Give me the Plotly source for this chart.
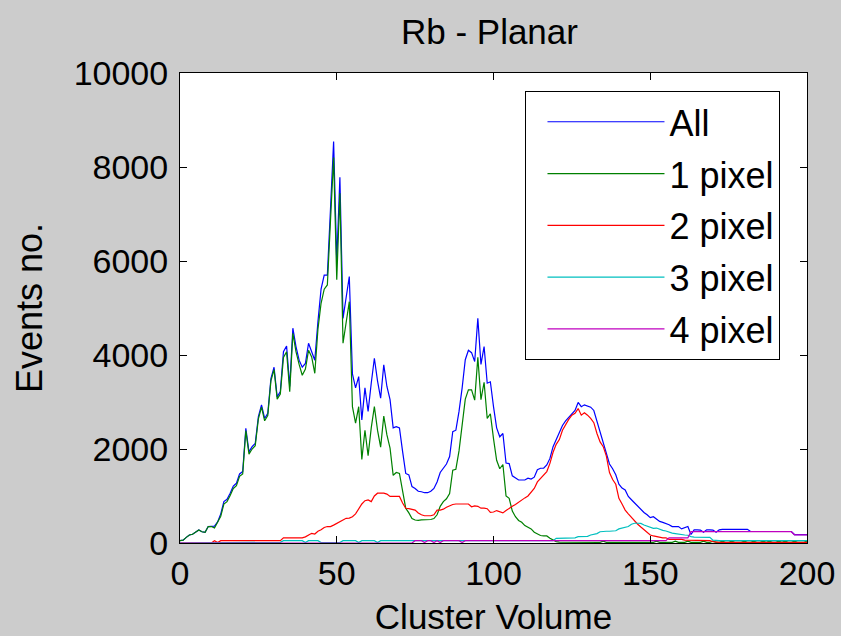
import plotly.graph_objects as go

cluster_volume = list(range(0, 201))

all_events = [
    50, 60, 120, 170, 185, 227, 277, 240, 227, 350,
    350, 360, 450, 620, 880, 930, 1060, 1210, 1270, 1470,
    1520, 2440, 1940, 2050, 2120, 2690, 2940, 2650, 2760, 3500,
    3740, 3110, 3220, 4070, 4190, 3330, 4570, 4180, 3890, 3740,
    3820, 4250, 4070, 3890, 4710, 5400, 5700, 5700, 7100, 8540,
    6000, 7780, 4780, 5200, 5670, 3600, 3300, 3540, 2620, 3300,
    2800, 3400, 3930, 3450, 3080, 3790, 3330, 3050, 2450, 2475,
    2450, 1950, 1480, 1450, 1200, 1160, 1100, 1090, 1070, 1070,
    1100, 1160, 1300, 1500, 1600, 1680, 1840, 2370, 2400, 2800,
    3300, 3900, 4100, 4050, 3860, 4780, 3800, 4180, 3400, 3430,
    2900, 2450, 2260, 2330, 1700, 1690, 1430, 1380, 1340, 1340,
    1340, 1380, 1360, 1400, 1560, 1590, 1590, 1660, 1800, 2050,
    2200, 2380, 2500, 2600, 2680, 2740, 2820, 2990, 2900, 2940,
    2920, 2890, 2820, 2600, 2350, 2150, 1900, 1680, 1580, 1450,
    1250, 1170, 1130, 990, 920, 850, 780, 710, 650, 600,
    540, 560, 500, 460, 440, 420, 390, 350, 350, 350,
    300, 320, 350, 180, 280, 280, 275, 230, 280, 280,
    275, 230, 280, 290, 290, 290, 290, 290, 290, 290,
    290, 290, 245, 245, 250, 245, 240, 245, 245, 240,
    245, 245, 240, 245, 245, 245, 180, 180, 180, 180,
    180,
]

one_pixel = [
    50, 60, 120, 170, 185, 227, 277, 240, 227, 350,
    350, 320, 440, 570, 830, 880, 1010, 1160, 1220, 1420,
    1470, 2390, 1890, 2000, 2070, 2640, 2890, 2600, 2710, 3450,
    3690, 3060, 3170, 3950, 4070, 3220, 4460, 4070, 3800, 3570,
    3700, 4100, 3960, 3610, 4550, 5100, 5400, 5490, 6850, 8200,
    5600, 7440, 4250, 4700, 5135, 2900, 2550, 2900, 1780, 2400,
    1860, 2450, 2900, 2400, 2040, 2700, 2300, 2020, 1440, 1500,
    1480, 1110, 740, 640, 520, 490, 480, 490, 490, 490,
    500, 520, 600, 780, 880, 940, 1050, 1550, 1570, 1960,
    2460, 3060, 3260, 3260, 3040, 3950, 3050, 3420, 2650, 2750,
    2220, 1760, 1580, 1670, 1000, 950, 680, 560, 480, 440,
    370, 340, 300, 230, 190, 160, 150, 150, 100, 64,
    30, 20, 20, 15, 15, 15, 15, 15, 15, 15,
    15, 15, 15, 15, 15, 40, 15, 15, 15, 15,
    15, 15, 15, 15, 15, 15, 15, 15, 15, 15,
    15, 15, 40, 15, 15, 15, 15, 15, 40, 15,
    15, 15, 40, 15, 15, 15, 15, 40, 15, 15,
    40, 15, 15, 40, 15, 15, 40, 15, 15, 15,
    40, 15, 15, 40, 15, 15, 40, 15, 40, 15,
    15, 40, 15, 40, 15, 15, 40, 15, 15, 15,
    40,
]

two_pixel = [
    0, 0, 0, 0, 0, 0, 0, 0, 0, 0,
    0, 50, 10, 50, 50, 50, 50, 50, 50, 50,
    50, 50, 50, 50, 50, 50, 50, 50, 50, 50,
    50, 50, 50, 110, 110, 110, 110, 110, 110, 110,
    130, 160, 206, 190, 250, 280, 330, 350, 350, 380,
    420, 460, 500, 525, 530, 560, 620, 720, 830, 900,
    915, 880, 1000, 1060, 1060, 1060, 1040, 990, 990, 990,
    990, 850, 740, 730, 720, 700, 640, 600, 580, 580,
    580, 600, 700, 700, 720, 760, 790, 820, 830, 830,
    830, 830, 830, 770, 790, 780, 740, 740, 730, 650,
    660, 690, 660, 640, 690, 740, 780, 820, 870, 920,
    960, 1000, 1080, 1160, 1300, 1380, 1440, 1520, 1695, 1930,
    2100, 2200, 2400, 2520, 2630, 2720, 2760, 2860, 2720, 2770,
    2720, 2650, 2560, 2330, 2150, 2050, 1850, 1500, 1350, 1250,
    950, 830, 700, 620, 540, 460, 400, 340, 277, 220,
    170, 150, 135, 110, 110, 110, 78, 78, 78, 78,
    78, 60, 60, 60, 60, 60, 60, 60, 60, 50,
    30, 15, 15, 15, 15, 15, 15, 15, 15, 15,
    15, 15, 15, 15, 15, 15, 15, 15, 15, 15,
    15, 15, 15, 15, 15, 15, 15, 15, 15, 15,
    15,
]

three_pixel = [
    0, 0, 0, 0, 0, 0, 0, 0, 0, 0,
    0, 0, 0, 0, 0, 0, 0, 0, 0, 0,
    0, 0, 0, 0, 0, 0, 0, 0, 0, 0,
    0, 0, 15, 50, 50, 50, 50, 50, 50, 50,
    10, 50, 50, 50, 50, 10, 10, 10, 10, 10,
    10, 10, 50, 50, 50, 50, 50, 10, 50, 50,
    50, 50, 50, 10, 50, 50, 50, 50, 50, 50,
    50, 50, 50, 50, 50, 50, 50, 50, 50, 50,
    50, 50, 50, 50, 50, 50, 50, 50, 50, 50,
    50, 50, 50, 50, 50, 50, 50, 50, 50, 50,
    50, 50, 50, 50, 50, 50, 50, 50, 50, 50,
    50, 50, 50, 50, 50, 50, 50, 50, 50, 50,
    100, 100, 100, 100, 100, 100, 110, 135, 135, 135,
    140, 170, 180, 200, 240, 250, 250, 250, 255, 260,
    300, 312, 330, 350, 400, 420, 420, 418, 383, 360,
    330, 312, 318, 290, 270, 255, 230, 210, 200, 185,
    180, 170, 165, 135, 125, 125, 125, 125, 125, 120,
    60, 50, 50, 50, 50, 50, 50, 50, 50, 50,
    50, 50, 50, 50, 50, 50, 50, 50, 50, 50,
    50, 50, 50, 50, 50, 50, 50, 50, 50, 50,
    50,
]

four_pixel = [
    0, 0, 0, 0, 0, 0, 0, 0, 0, 0,
    0, 0, 0, 0, 0, 0, 0, 0, 0, 0,
    0, 0, 0, 0, 0, 0, 0, 0, 0, 0,
    0, 0, 0, 0, 0, 0, 0, 0, 0, 0,
    0, 0, 0, 0, 0, 0, 0, 0, 0, 0,
    0, 0, 0, 0, 0, 0, 0, 0, 0, 0,
    0, 0, 0, 0, 0, 0, 0, 0, 0, 0,
    0, 0, 0, 0, 0, 50, 50, 50, 10, 50,
    50, 10, 50, 10, 50, 50, 50, 50, 50, 50,
    10, 50, 50, 50, 50, 50, 50, 50, 50, 50,
    50, 50, 50, 50, 50, 50, 50, 50, 50, 50,
    50, 50, 50, 50, 50, 50, 50, 50, 50, 50,
    50, 50, 50, 50, 50, 50, 50, 50, 50, 50,
    50, 50, 50, 50, 50, 50, 50, 50, 50, 50,
    50, 50, 50, 50, 50, 50, 50, 50, 50, 50,
    50, 50, 50, 50, 50, 50, 110, 110, 110, 110,
    110, 110, 110, 240, 240, 240, 240, 240, 240, 240,
    240, 240, 240, 240, 240, 240, 240, 240, 240, 240,
    240, 240, 240, 240, 240, 240, 240, 240, 240, 240,
    240, 240, 240, 240, 240, 240, 175, 175, 175, 175,
    175,
]

series_names = ["All", "1 pixel", "2 pixel", "3 pixel", "4 pixel"]
series_values = [all_events, one_pixel, two_pixel, three_pixel, four_pixel]
series_colors = ["#0000ff", "#008000", "#ff0000", "#00bfbf", "#bf00bf"]

x_ticks = [0, 50, 100, 150, 200]
y_ticks = [0, 2000, 4000, 6000, 8000, 10000]

FONT = "Liberation Sans, Arial, Helvetica, sans-serif"

fig = go.Figure()
for name, vals, col in zip(series_names, series_values, series_colors):
    fig.add_trace(go.Scatter(
        x=cluster_volume, y=vals, mode="lines", name=name,
        legendgroup=name,
        line=dict(color=col, width=1.2),
    ))

fig.update_layout(
    width=841, height=636,
    paper_bgcolor="#cccccc", plot_bgcolor="#ffffff",
    margin=dict(l=180, r=34, t=73, b=93, autoexpand=False),
    font=dict(family=FONT, size=34, color="#000000"),
    title=dict(text="Rb - Planar", x=0.582, xanchor="center",
               y=0.95, yanchor="middle", yref="container", automargin=False,
               font=dict(family=FONT, size=35, color="#000000")),
    showlegend=True,
    legend=dict(
        x=0.551, y=0.962, xanchor="left", yanchor="top",
        bgcolor="#ffffff", bordercolor="#000000", borderwidth=1,
        font=dict(family=FONT, size=36, color="#000000"),
        itemwidth=117, indentation=16,
        traceorder="grouped", tracegroupgap=2,
    ),
)

fig.update_xaxes(
    range=[0, 200], tickvals=x_ticks, ticktext=[str(v) for v in x_ticks],
    ticks="inside", ticklen=7, tickcolor="#000000", tickwidth=1,
    showline=True, linecolor="#000000", linewidth=1, mirror="ticks",
    showgrid=False, zeroline=False, automargin=False,
    tickfont=dict(family=FONT, size=34, color="#000000"),
    title=dict(text="Cluster Volume", standoff=13,
               font=dict(family=FONT, size=35, color="#000000")),
)
fig.update_yaxes(
    range=[0, 10000], tickvals=y_ticks, ticktext=[str(v) for v in y_ticks],
    ticks="inside", ticklen=7, tickcolor="#000000", tickwidth=1,
    showline=True, linecolor="#000000", linewidth=1, mirror="ticks",
    showgrid=False, zeroline=False, automargin=False,
    ticklabelstandoff=4,
    tickfont=dict(family=FONT, size=34, color="#000000"),
    title=dict(text="Events no.", standoff=20,
               font=dict(family=FONT, size=36, color="#000000")),
)

fig.write_html(
    "out.html",
    config={"displayModeBar": False},
    post_script=(
        "document.body.style.margin='0';"
        "document.body.style.background='#cccccc';"
        "document.documentElement.style.background='#cccccc';"
        "document.body.style.overflow='hidden';"
    ),
)
